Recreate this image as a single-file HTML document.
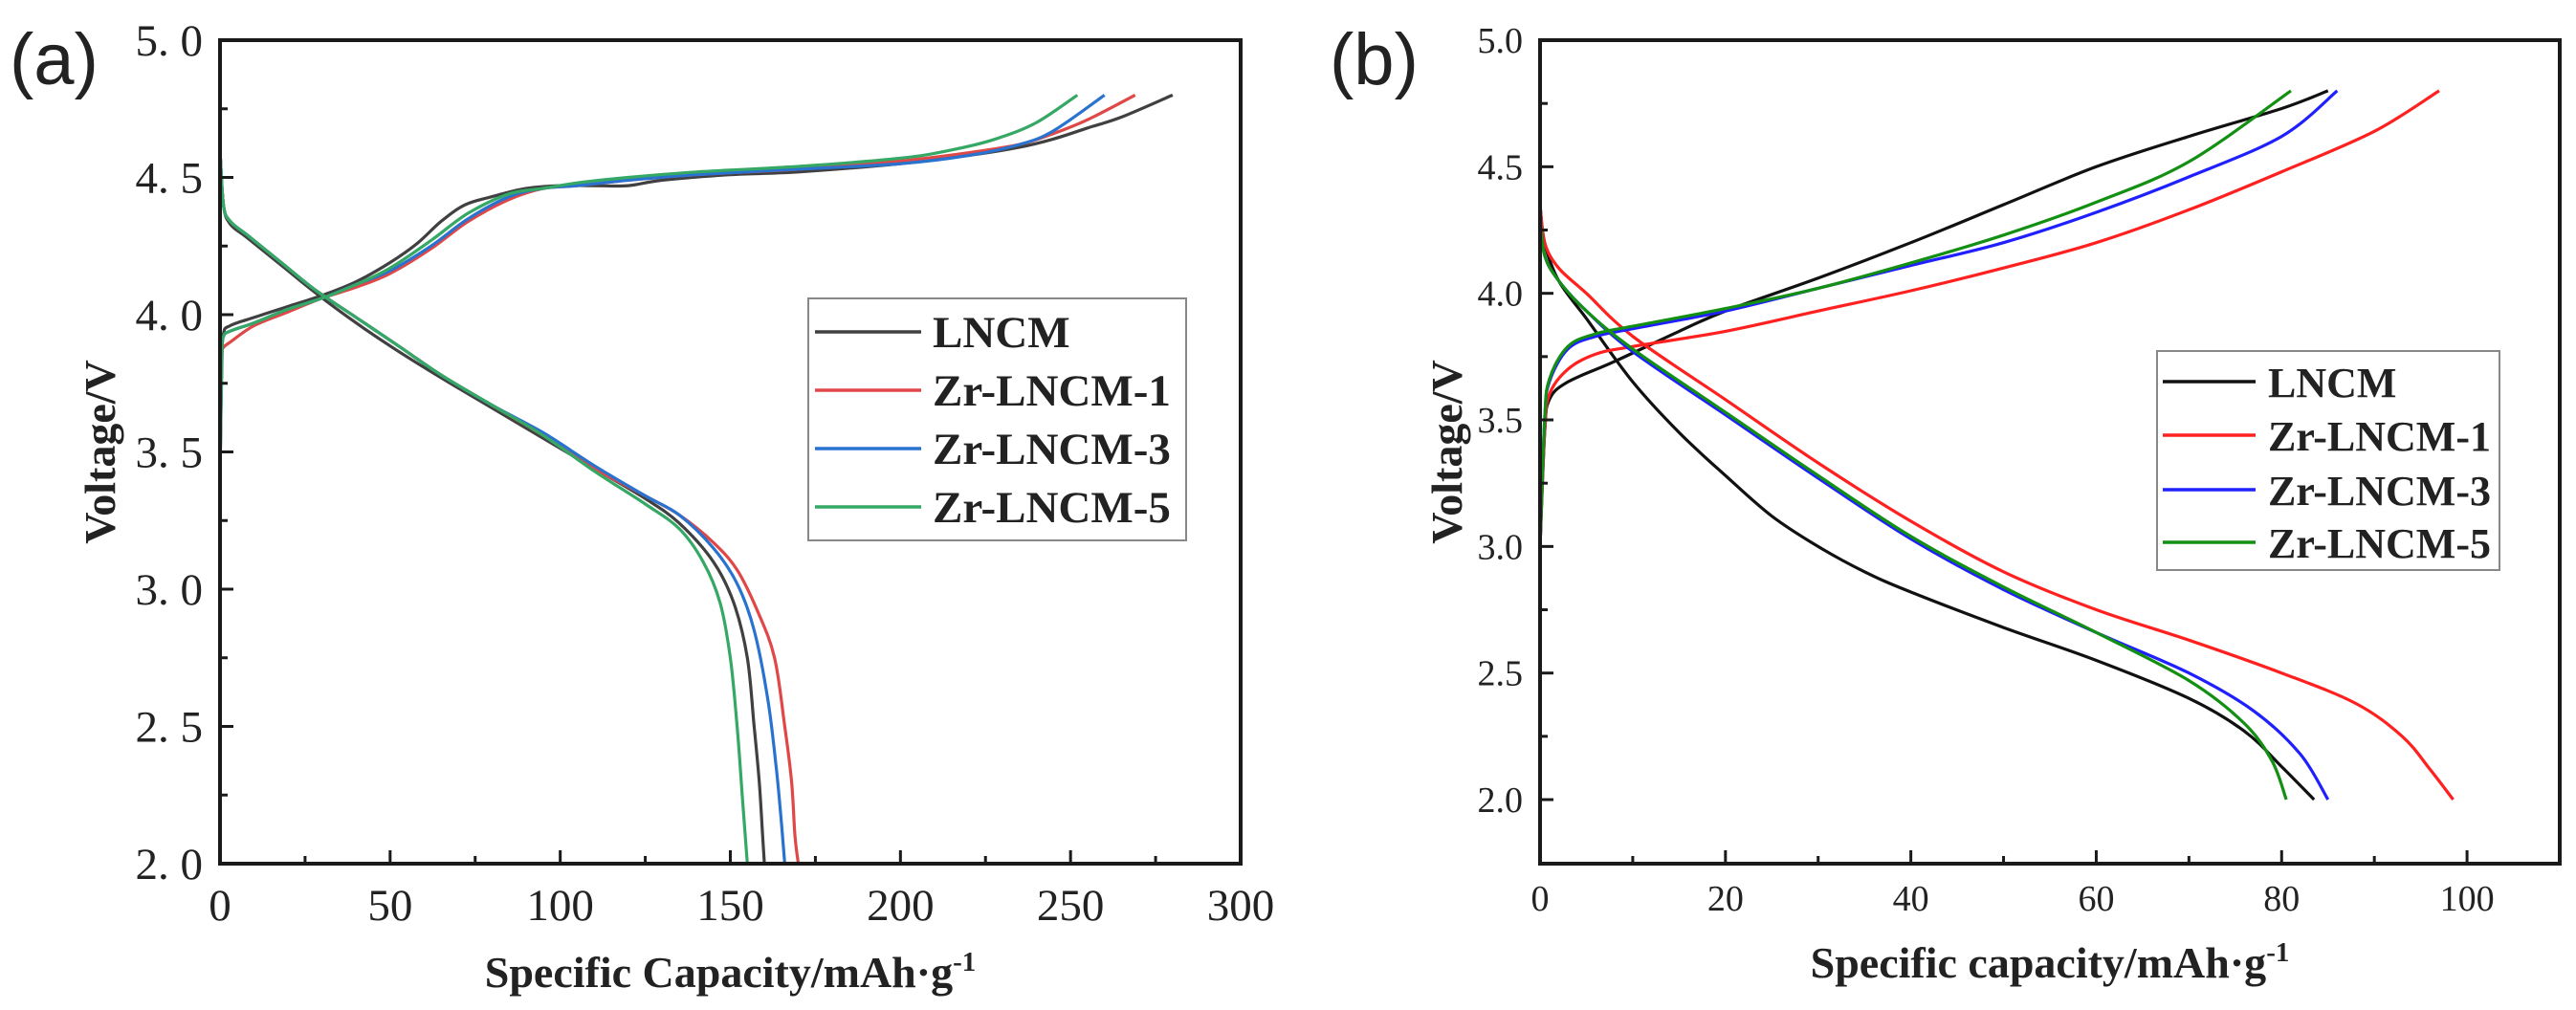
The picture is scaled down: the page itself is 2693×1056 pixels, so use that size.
<!DOCTYPE html>
<html><head><meta charset="utf-8"><style>
html,body{margin:0;padding:0;background:#fff;}
svg{display:block;}
.tick{font-family:"Liberation Serif",serif;fill:#222;}
.ttl{font-family:"Liberation Serif",serif;font-weight:bold;fill:#222;}
</style></head><body>
<svg id="fig" width="2693" height="1056" viewBox="0 0 2693 1056" xmlns="http://www.w3.org/2000/svg">
<text x="10" y="88" font-family="Liberation Sans, sans-serif" font-size="76" fill="#222">(a)</text>
<text x="1390" y="88" font-family="Liberation Sans, sans-serif" font-size="76" fill="#222">(b)</text>
<g id="pa"></g>
<g id="pb"></g>
</svg>
<script>
// ---- Panel (a) data ----
const aSeriesNames = ["LNCM","Zr-LNCM-1","Zr-LNCM-3","Zr-LNCM-5"];
const aColors = ["#404040","#e04848","#2a72d0","#35a865"];
const aXTicks = [0,50,100,150,200,250,300];
const aYTicks = ["2. 0","2. 5","3. 0","3. 5","4. 0","4. 5","5. 0"];
const aYTickVals = [2,2.5,3,3.5,4,4.5,5];
// charge curves
const aChgLNCM_x = [0,0.5,1,3,10,20,30,40,50,58,65,72,80,90,100,110,120,130,150,170,200,220,235,245,255,265,280];
const aChgLNCM_y = [3.4,3.8,3.93,3.96,3.99,4.03,4.07,4.12,4.19,4.26,4.34,4.4,4.43,4.46,4.47,4.47,4.47,4.49,4.51,4.52,4.55,4.58,4.61,4.64,4.68,4.72,4.8];
const aChgR_x = [0,0.5,1,3,10,20,30,40,50,62,73,85,95,105,120,140,170,200,220,235,245,255,269];
const aChgR_y = [3.5,3.85,3.88,3.9,3.96,4.01,4.06,4.1,4.15,4.24,4.34,4.42,4.46,4.47,4.49,4.51,4.53,4.56,4.59,4.62,4.66,4.71,4.8];
const aChgB_x = [0,0.5,1,3,10,20,30,40,50,62,73,85,95,105,120,140,170,200,220,235,245,260];
const aChgB_y = [3.4,3.85,3.92,3.94,3.97,4.02,4.06,4.11,4.16,4.25,4.35,4.43,4.46,4.47,4.49,4.51,4.53,4.55,4.58,4.62,4.67,4.8];
const aChgG_x = [0,0.5,1,3,10,20,30,40,50,62,73,85,95,105,120,140,170,200,215,228,240,252];
const aChgG_y = [3.4,3.85,3.92,3.94,3.97,4.02,4.06,4.11,4.17,4.27,4.37,4.44,4.46,4.48,4.5,4.52,4.54,4.57,4.6,4.64,4.7,4.8];
// discharge curves
const aDisLNCM_x = [0,1,3,8,18,28,40,52,65,80,95,110,125,135,145,151,155,157,158.5,159.5,160];
const aDisLNCM_y = [4.6,4.4,4.33,4.28,4.18,4.08,3.97,3.87,3.77,3.66,3.55,3.44,3.33,3.24,3.1,2.95,2.75,2.5,2.3,2.1,2.0];
const aDisR_x = [0,1,3,8,18,28,40,52,65,80,95,110,125,135,145,152,158,163,166,168,169,170];
const aDisR_y = [4.6,4.4,4.34,4.29,4.19,4.09,3.99,3.89,3.78,3.67,3.56,3.44,3.34,3.27,3.17,3.07,2.92,2.75,2.5,2.3,2.1,2.0];
const aDisB_x = [0,1,3,8,18,28,40,52,65,80,95,110,125,135,145,152,157,161,163.5,165,166];
const aDisB_y = [4.6,4.4,4.34,4.29,4.19,4.09,3.99,3.89,3.78,3.67,3.57,3.45,3.34,3.27,3.15,3.02,2.85,2.6,2.35,2.15,2.0];
const aDisG_x = [0,1,3,8,18,28,40,52,65,80,95,110,125,135,142,147,150,152,153.5,155];
const aDisG_y = [4.6,4.4,4.34,4.29,4.19,4.09,3.99,3.89,3.78,3.67,3.56,3.43,3.31,3.22,3.1,2.95,2.75,2.5,2.25,2.0];

// ---- Panel (b) data ----
const bSeriesNames = ["LNCM","Zr-LNCM-1","Zr-LNCM-3","Zr-LNCM-5"];
const bColors = ["#111111","#ff2020","#2020ff","#139013"];
const bXTicks = [0,20,40,60,80,100];
const bYTicks = ["2.0","2.5","3.0","3.5","4.0","4.5","5.0"];
const bYTickVals = [2,2.5,3,3.5,4,4.5,5];
const bChgLNCM_x = [0,0.5,1,3,8,15,20,30,40,50,60,70,80,85];
const bChgLNCM_y = [3.0,3.45,3.58,3.65,3.73,3.85,3.93,4.06,4.2,4.35,4.5,4.62,4.73,4.8];
const bChgR_x = [0,0.5,1,3,6,10,20,30,40,50,60,70,80,90,97];
const bChgR_y = [3.0,3.45,3.6,3.7,3.76,3.79,3.85,3.93,4.01,4.1,4.2,4.33,4.48,4.64,4.8];
const bChgB_x = [0,0.5,1,3,6,10,20,30,40,50,60,70,80,86];
const bChgB_y = [3.0,3.5,3.65,3.78,3.83,3.86,3.93,4.02,4.11,4.2,4.32,4.46,4.62,4.8];
const bChgG_x = [0,0.5,1,3,6,10,20,30,40,50,60,70,81];
const bChgG_y = [3.0,3.5,3.66,3.79,3.84,3.87,3.94,4.02,4.12,4.23,4.36,4.52,4.8];
const bDisLNCM_x = [0,0.5,2,5,10,15,20,25,30,35,40,50,60,70,76,80,83.5];
const bDisLNCM_y = [4.35,4.2,4.05,3.9,3.65,3.45,3.28,3.12,3.0,2.9,2.82,2.68,2.55,2.4,2.27,2.13,2.0];
const bDisR_x = [0,0.5,2,5,10,20,30,40,50,60,70,80,88,93,96,98.5];
const bDisR_y = [4.35,4.2,4.1,4.0,3.83,3.58,3.33,3.1,2.9,2.75,2.63,2.5,2.38,2.25,2.12,2.0];
const bDisB_x = [0,0.5,2,5,10,20,30,40,50,60,70,77,82,85];
const bDisB_y = [4.3,4.15,4.05,3.93,3.77,3.52,3.27,3.03,2.83,2.66,2.5,2.35,2.18,2.0];
const bDisG_x = [0,0.5,2,5,10,20,30,40,50,60,70,76,79,80.5];
const bDisG_y = [4.3,4.15,4.05,3.93,3.78,3.53,3.28,3.04,2.84,2.66,2.47,2.3,2.15,2.0];

const NS="http://www.w3.org/2000/svg";
function mk(tag,attrs,parent){const e=document.createElementNS(NS,tag);for(const k in attrs)e.setAttribute(k,attrs[k]);parent.appendChild(e);return e;}
function smooth(pts){
  let d="M"+pts[0][0].toFixed(1)+","+pts[0][1].toFixed(1);
  for(let i=0;i<pts.length-1;i++){
    const p0=pts[Math.max(0,i-1)],p1=pts[i],p2=pts[i+1],p3=pts[Math.min(pts.length-1,i+2)];
    const c1=[p1[0]+(p2[0]-p0[0])/6,p1[1]+(p2[1]-p0[1])/6];
    const c2=[p2[0]-(p3[0]-p1[0])/6,p2[1]-(p3[1]-p1[1])/6];
    d+="C"+c1[0].toFixed(1)+","+c1[1].toFixed(1)+" "+c2[0].toFixed(1)+","+c2[1].toFixed(1)+" "+p2[0].toFixed(1)+","+p2[1].toFixed(1);
  }
  return d;
}
function panel(g,cfg){
  const L=cfg.L,R=cfg.R,T=cfg.T,B=cfg.B;
  const sx=v=>L+(v-cfg.xmin)/(cfg.xmax-cfg.xmin)*(R-L);
  const sy=v=>B-(v-cfg.ymin)/(cfg.ymax-cfg.ymin)*(B-T);
  const clip=mk("clipPath",{id:cfg.id+"clip"},g);
  mk("rect",{x:L,y:T,width:R-L,height:B-T},clip);
  const sg=mk("g",{"clip-path":"url(#"+cfg.id+"clip)"},g);
  cfg.series.forEach((s,i)=>{
    [[s.cx,s.cy,"charge"],[s.dx,s.dy,"discharge"]].forEach(([xs,ys,kind])=>{
      const pts=xs.map((x,j)=>[sx(x),sy(ys[j])]);
      const p=mk("path",{d:smooth(pts),fill:"none",stroke:cfg.colors[i],"stroke-width":3.2,"stroke-linejoin":"round"},sg);
      
      
    });
  });
  const fr=mk("rect",{x:L,y:T,width:R-L,height:B-T,fill:"none",stroke:"#1a1a1a","stroke-width":4},g);
  
  
  cfg.xTicks.forEach((v,i)=>{
    mk("line",{x1:sx(v),x2:sx(v),y1:B,y2:B-cfg.major,stroke:"#1a1a1a","stroke-width":3},g);
    if(i<cfg.xTicks.length-1){const m=(v+cfg.xTicks[i+1])/2;mk("line",{x1:sx(m),x2:sx(m),y1:B,y2:B-cfg.minor,stroke:"#1a1a1a","stroke-width":3},g);}
    const t=mk("text",{x:sx(v),y:cfg.xLabY,"text-anchor":"middle","font-size":cfg.tickFs,class:"tick"},g);
    t.textContent=v;
    
    
  });
  cfg.yTickVals.forEach((v,i)=>{
    mk("line",{x1:L,x2:L+cfg.major,y1:sy(v),y2:sy(v),stroke:"#1a1a1a","stroke-width":3},g);
    const m=v+0.25; if(m<cfg.ymax) mk("line",{x1:L,x2:L+cfg.minor,y1:sy(m),y2:sy(m),stroke:"#1a1a1a","stroke-width":3},g);
    const t=mk("text",{x:cfg.yLabX,y:sy(v)+cfg.tickFs*0.34,"text-anchor":"end","font-size":cfg.tickFs,class:"tick"},g);
    t.textContent=cfg.yTicks[i];
    
    
  });
  const xt=mk("text",{x:(L+R)/2,y:cfg.xTitleY,"text-anchor":"middle","font-size":46,class:"ttl"},g);
  xt.innerHTML=cfg.xTitle+'<tspan dy="-17" font-size="29">-1</tspan>';
  
  
  const yt=mk("text",{x:0,y:0,"text-anchor":"middle","font-size":46,class:"ttl",transform:"translate("+cfg.yTitleX+","+(T+B)/2+") rotate(-90)"},g);
  yt.textContent="Voltage/V";
  
  
  const lg=mk("g",{},g);
  
  
  const lb=cfg.leg;
  mk("rect",{x:lb.x,y:lb.y,width:lb.w,height:lb.h,fill:"#fff",stroke:"#888","stroke-width":2},lg);
  cfg.names.forEach((n,i)=>{
    const y=lb.ey[i];
    const ln=mk("line",{x1:lb.lx1,x2:lb.lx2,y1:y,y2:y,stroke:cfg.colors[i],"stroke-width":3.5},lg);
    
    
    const t=mk("text",{x:lb.tx,y:y+16,"font-size":lb.fs,class:"ttl"},lg);
    t.textContent=n;
    
    
  });
}
panel(document.getElementById("pa"),{
  id:"panel-a",L:230,R:1297,T:42,B:903,xmin:0,xmax:300,ymin:2,ymax:5,
  xTicks:aXTicks,yTicks:aYTicks,yTickVals:aYTickVals,names:aSeriesNames,colors:aColors,
  major:14,minor:8,tickFs:47,xLabY:962,yLabX:212,xTitleY:1032,yTitleX:120,
  xTitle:"Specific Capacity/mAh·g",
  leg:{x:845,y:312,w:395,h:253,ey:[347,408,469,530],lx1:852,lx2:963,tx:975,fs:47},
  series:[
    {cx:aChgLNCM_x,cy:aChgLNCM_y,dx:aDisLNCM_x,dy:aDisLNCM_y},
    {cx:aChgR_x,cy:aChgR_y,dx:aDisR_x,dy:aDisR_y},
    {cx:aChgB_x,cy:aChgB_y,dx:aDisB_x,dy:aDisB_y},
    {cx:aChgG_x,cy:aChgG_y,dx:aDisG_x,dy:aDisG_y}]
});
panel(document.getElementById("pb"),{
  id:"panel-b",L:1610,R:2676,T:42,B:903,xmin:0,xmax:110,ymin:1.747,ymax:5,
  xTicks:bXTicks,yTicks:bYTicks,yTickVals:bYTickVals,names:bSeriesNames,colors:bColors,
  major:14,minor:8,tickFs:38,xLabY:952,yLabX:1592,xTitleY:1022,yTitleX:1528,
  xTitle:"Specific capacity/mAh·g",
  leg:{x:2255,y:367,w:358,h:229,ey:[399,455,512,567],lx1:2261,lx2:2358,tx:2371,fs:44},
  series:[
    {cx:bChgLNCM_x,cy:bChgLNCM_y,dx:bDisLNCM_x,dy:bDisLNCM_y},
    {cx:bChgR_x,cy:bChgR_y,dx:bDisR_x,dy:bDisR_y},
    {cx:bChgB_x,cy:bChgB_y,dx:bDisB_x,dy:bDisB_y},
    {cx:bChgG_x,cy:bChgG_y,dx:bDisG_x,dy:bDisG_y}]
});
</script>
</body></html>
